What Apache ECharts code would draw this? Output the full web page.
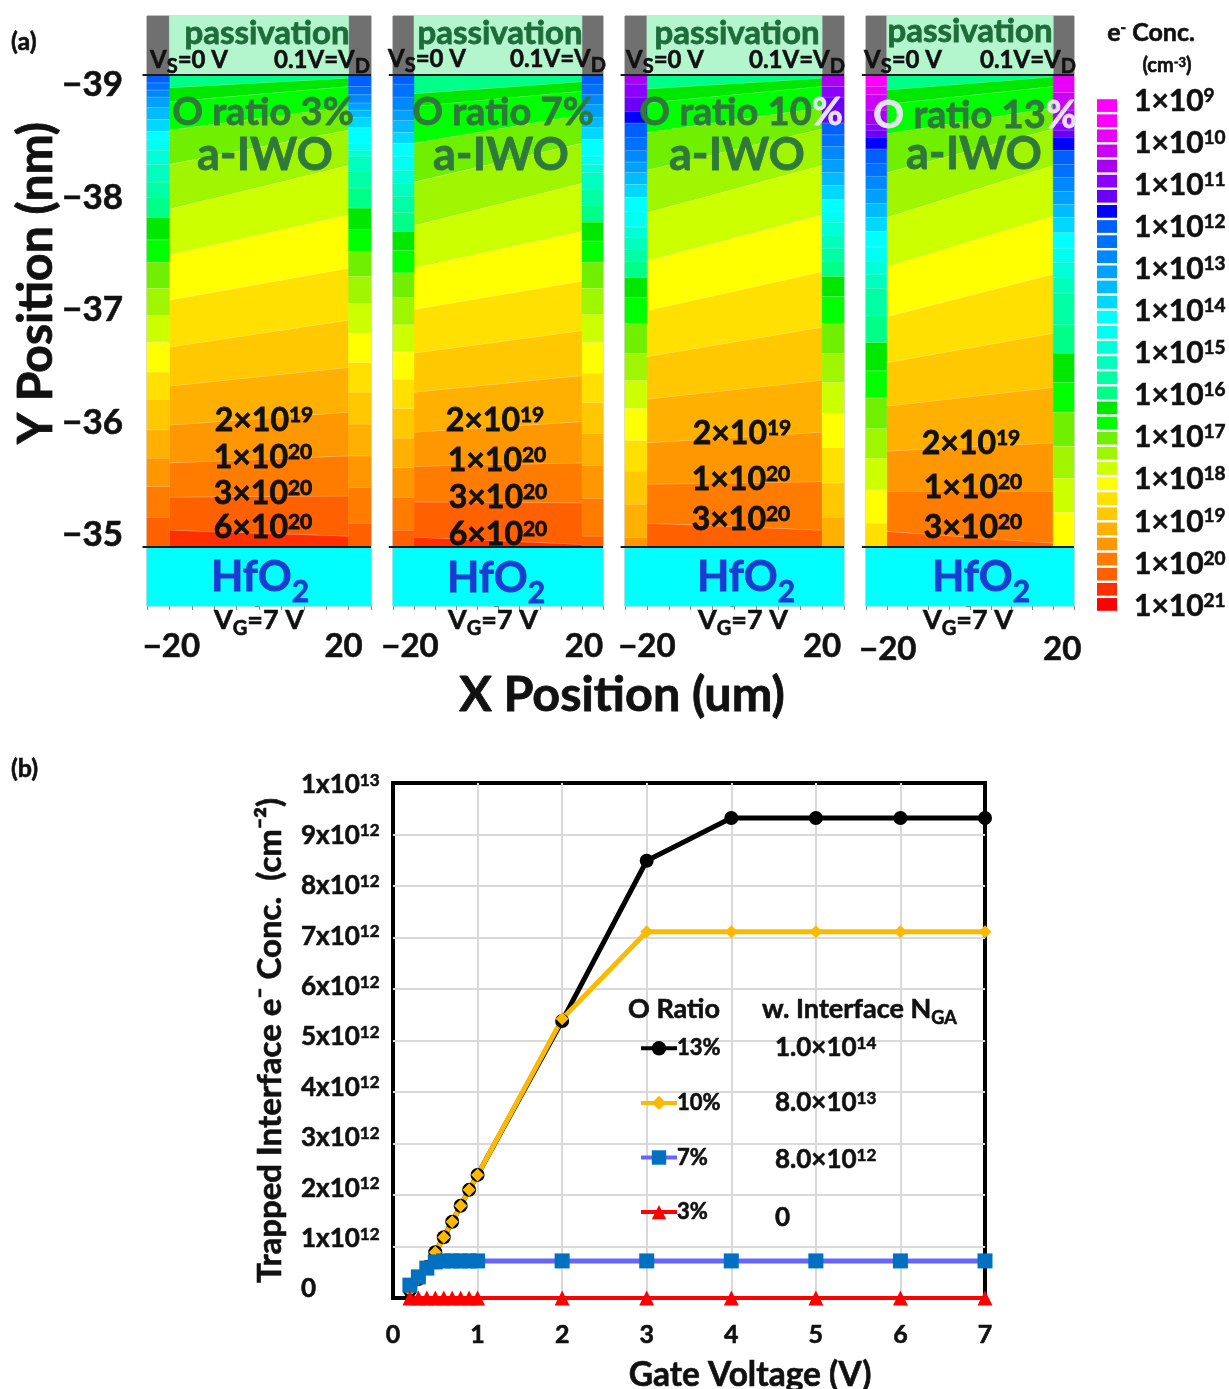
<!DOCTYPE html>
<html>
<head>
<meta charset="utf-8">
<style>html,body{margin:0;padding:0;background:#fff}#c{width:1229px;height:1389px}</style>
<script src="https://cdn.jsdelivr.net/npm/echarts@6/dist/echarts.min.js"></script>
</head>
<body>
<div id="c"></div>
<script>
// ---------- Panel (a): concentration colour levels, top (1e9) to bottom (1e21) ----------
const levelColors = ['#ff00ff','#ff00ff','#e800f8','#cc00f8','#a800f0','#8c00ff','#6a00f8','#0000ff','#0060ff','#0070ff','#0088ff','#00a0ff','#00bcff','#00d8ff','#00ffff','#00fff0','#00ffd8','#00ffbe','#00ffa4','#00ff88','#00e800','#00ff00','#70f000','#a0f500','#ccff00','#ffff00','#ffe000','#ffc800','#ffb000','#ff9800','#ff7c00','#ff6000','#ff3000','#ff0000'];
const layerColors = ['#b3f5cc','#707070','#00ffff'];
const exponents = [9,10,11,12,13,14,15,16,17,18,19,20,21];
const yTicksNm = [-39,-38,-37,-36,-35];

// contour boundaries (nm) in the channel: at x=-20 and at x=+20
const center3L  = [-38.89,-38.77,-38.53,-38.24,-37.86,-37.47,-37.09,-36.69,-36.36,-36.03,-35.71,-35.42,-35.14];
const center3R  = [-38.97,-38.90,-38.73,-38.53,-38.23,-37.81,-37.36,-36.92,-36.52,-36.14,-35.77,-35.43,-35.09];
const center7L  = [-38.84,-38.73,-38.42,-38.09,-37.72,-37.36,-37.01,-36.64,-36.31,-35.97,-35.68,-35.38,-35.08];
const center7R  = [-38.94,-38.86,-38.66,-38.42,-38.08,-37.67,-37.25,-36.83,-36.45,-36.06,-35.71,-35.37,-35.02];
const center10L = [-38.88,-38.76,-38.51,-38.19,-37.83,-37.42,-37.00,-36.61,-36.25,-35.88,-35.53,-35.20];
const center10R = [-38.97,-38.90,-38.72,-38.54,-38.23,-37.81,-37.33,-36.86,-36.41,-35.97,-35.55,-35.14];
const center13L = [-38.87,-38.75,-38.50,-38.17,-37.79,-37.37,-36.95,-36.56,-36.19,-35.81,-35.47,-35.13];
const center13R = [-38.98,-38.90,-38.72,-38.54,-38.23,-37.80,-37.31,-36.81,-36.35,-35.88,-35.47,-35.03];
// source/drain strips: lower edge (nm) of successive colour cells
const strip3L  = [-38.93,-38.87,-38.81,-38.72,-38.62,-38.52,-38.45,-38.36,-38.24,-38.09,-37.96,-37.79,-37.60,-37.41,-37.19,-36.96,-36.73,-36.48,-36.25,-35.99,-35.75,-35.51,-35.25,-35.00];
const strip3R  = [-38.90,-38.83,-38.76,-38.70,-38.64,-38.55,-38.42,-38.36,-38.31,-38.18,-38.04,-37.87,-37.69,-37.50,-37.29,-37.06,-36.81,-36.56,-36.31,-36.04,-35.77,-35.50,-35.20,-35.00];
const strip7L  = [-38.92,-38.81,-38.70,-38.61,-38.51,-38.42,-38.31,-38.19,-38.08,-37.97,-37.83,-37.67,-37.51,-37.32,-37.11,-36.88,-36.65,-36.42,-36.17,-35.92,-35.67,-35.42,-35.14,-35.00];
const strip7R  = [-38.92,-38.83,-38.75,-38.64,-38.55,-38.45,-38.31,-38.24,-38.17,-38.03,-37.89,-37.75,-37.59,-37.41,-37.19,-36.97,-36.73,-36.47,-36.22,-35.96,-35.69,-35.41,-35.09,-35.00];
const strip10L = [-38.92,-38.81,-38.69,-38.59,-38.47,-38.36,-38.26,-38.17,-38.07,-37.96,-37.84,-37.71,-37.62,-37.52,-37.42,-37.28,-37.11,-36.89,-36.64,-36.41,-36.17,-35.90,-35.64,-35.36,-35.08,-35.00];
const strip10R = [-38.90,-38.81,-38.59,-38.59,-38.49,-38.39,-38.28,-38.17,-38.06,-37.94,-37.84,-37.75,-37.64,-37.53,-37.42,-37.29,-37.12,-36.89,-36.64,-36.39,-36.13,-35.84,-35.54,-35.25,-35.00];
const strip13L = [-38.90,-38.83,-38.70,-38.58,-38.53,-38.47,-38.37,-38.25,-38.14,-38.03,-37.91,-37.79,-37.67,-37.54,-37.42,-37.31,-37.19,-36.96,-36.73,-36.49,-36.26,-36.00,-35.75,-35.48,-35.20,-35.00];
const strip13R = [-38.85,-38.70,-38.59,-38.53,-38.47,-38.36,-38.24,-38.13,-38.01,-37.90,-37.79,-37.66,-37.53,-37.41,-37.28,-37.15,-36.88,-36.64,-36.39,-36.14,-35.85,-35.58,-35.29,-35.00];

// ---------- Panel (b) ----------
const gateVoltage = [0.2,0.3,0.4,0.5,0.6,0.7,0.8,0.9,1,2,3,4,5,6,7];
const trapped13 = [0.15e12,0.37e12,0.60e12,0.89e12,1.18e12,1.48e12,1.79e12,2.10e12,2.39e12,5.38e12,8.49e12,9.32e12,9.32e12,9.32e12,9.32e12];
const trapped10 = [0.15e12,0.37e12,0.60e12,0.89e12,1.18e12,1.48e12,1.79e12,2.10e12,2.39e12,5.42e12,7.11e12,7.11e12,7.11e12,7.11e12,7.11e12];
const trapped7  = [0.25e12,0.41e12,0.58e12,0.70e12,0.72e12,0.72e12,0.72e12,0.72e12,0.72e12,0.72e12,0.72e12,0.72e12,0.72e12,0.72e12,0.72e12];
const trapped3  = [0,0,0,0,0,0,0,0,0,0,0,0,0,0,0];
const bTicks = [0,1e12,2e12,3e12,4e12,5e12,6e12,7e12,8e12,9e12,1e13];

const FF = 'Lato';
const palette = levelColors.concat(layerColors);
const PASS = levelColors.length, GRAY = PASS + 1, OXIDE = PASS + 2;
const bold = (size, color, bw) => ({fontFamily:FF,fontWeight:'bold',fontSize:size,color,textBorderColor:color,textBorderWidth:bw===undefined?0.6:bw});

function stripRows(edges, startColor, x0, x1) {
  const rows = []; let top = -39;
  edges.forEach((e, k) => { rows.push([x0, x1, top, top, e, e, startColor + k, k < edges.length - 1 ? 1 : 0]); top = e; });
  return rows;
}
function centerRows(L, R) {
  const rows = []; let tl = -39, tr = -39;
  L.concat([-35]).forEach((l, k) => {
    const r = k < L.length ? R[k] : -35;
    rows.push([-20, 20, tl, tr, l, r, 19 + k, k < L.length ? 1 : 0]); tl = l; tr = r;
  });
  return rows;
}
const layerRows = [
  [-25,-20,-39.5,-39.5,-39,-39,GRAY,0],[20,25,-39.5,-39.5,-39,-39,GRAY,0],
  [-20,20,-39.5,-39.5,-39,-39,PASS,0],[-25,25,-35,-35,-34.5,-34.5,OXIDE,0]
];
function renderBand(p, api) {
  const a = api.coord([api.value(0), api.value(2)]), b = api.coord([api.value(1), api.value(3)]);
  const c = api.coord([api.value(1), api.value(5)]), d = api.coord([api.value(0), api.value(4)]);
  const kids = [{type:'polygon', shape:{points:[a,b,c,d]}, style:{fill:palette[api.value(6)], stroke:palette[api.value(6)], lineWidth:0.5}}];
  if (api.value(7)) kids.push({type:'line', shape:{x1:d[0],y1:d[1],x2:c[0],y2:c[1]}, style:{stroke:'rgba(255,255,255,0.75)', lineWidth:1}});
  return {type:'group', children:kids};
}
function renderInterface(p, api) {
  const a = api.coord([api.value(0), api.value(1)]), b = api.coord([api.value(2), api.value(1)]);
  return {type:'line', shape:{x1:a[0],y1:a[1],x2:b[0],y2:b[1]}, style:{stroke:'#1a1a1a', lineWidth:2}};
}

const panels = [
  {left:147,w:224,sl:2,sr:-5,m:24,rows:centerRows(center3L,center3R).concat(stripRows(strip3L,8,-25,-20),stripRows(strip3R,8,20,25))},
  {left:393,w:210,sl:-4,sr:2,m:24,rows:centerRows(center7L,center7R).concat(stripRows(strip7L,8,-25,-20),stripRows(strip7R,8,20,25))},
  {left:625,w:219,sl:0,sr:0,m:24,rows:centerRows(center10L,center10R).concat(stripRows(strip10L,4,-25,-20),stripRows(strip10R,4,20,25))},
  {left:866,w:208,sl:1,sr:9,m:27,rows:centerRows(center13L,center13R).concat(stripRows(strip13L,1,-25,-20),stripRows(strip13R,2,20,25))}
];
const shiftPad = s => s >= 0 ? [0,0,0,2*s] : [0,-2*s,0,0];

const grid=[], xAxis=[], yAxis=[], series=[];
const G = o => Object.assign({outerBoundsMode:'none'}, o);
panels.forEach((p,i)=>{
  grid.push(G({left:p.left, top:16, width:p.w, height:590, show:true, borderColor:'#b5b5b5', borderWidth:1, backgroundColor:'#fff'}));
  xAxis.push({gridIndex:i, type:'value', min:-25, max:25, interval:5,
    axisLine:{show:false}, splitLine:{show:false},
    axisTick:{show:true,length:4,lineStyle:{color:'#888'}},
    axisLabel:{margin:p.m, hideOverlap:false,
      formatter:v=> v===-20?'{l|−20}': v===20?'{r|20}':'',
      rich:{l:Object.assign(bold(33,'#111'),{padding:shiftPad(p.sl)}), r:Object.assign(bold(33,'#111'),{padding:shiftPad(p.sr)})}}});
  yAxis.push({gridIndex:i, type:'value', min:-39.5, max:-34.5, interval:0.25, inverse:true,
    axisLine:{show:false}, splitLine:{show:false}, axisLabel:{show:false},
    axisTick:{show:true,length:4,lineStyle:{color:'#777'}}});
  series.push({type:'custom', name:'layers'+i, xAxisIndex:i, yAxisIndex:i, renderItem:renderBand, data:layerRows, silent:true, z:2});
  series.push({type:'custom', name:'bands'+i, xAxisIndex:i, yAxisIndex:i, renderItem:renderBand, data:p.rows, silent:true, z:3});
  series.push({type:'custom', name:'interface'+i, xAxisIndex:i, yAxisIndex:i, renderItem:renderInterface, clip:false, data:[[-26,-39,25],[-26,-35,25]], silent:true, z:4});
});

// grid 4: y labels of panel (a)
grid.push(G({left:125, top:85, width:1, height:450}));
xAxis.push({gridIndex:4, type:'value', show:false, min:0, max:1});
yAxis.push({gridIndex:4, type:'value', min:yTicksNm[0], max:yTicksNm[4], interval:1, inverse:true,
  axisLine:{show:false}, axisTick:{show:false}, splitLine:{show:false},
  axisLabel:Object.assign(bold(35,'#111'),{margin:2, formatter:v=>String(v).replace('-','−')})});

// grid 5: colour bar
grid.push(G({left:1097, top:98, width:20, height:514}));
xAxis.push({gridIndex:5, type:'value', show:false, min:0, max:1});
yAxis.push({gridIndex:5, type:'category', show:false, inverse:true, data:levelColors.map((c,i)=>i)});
series.push({type:'bar', name:'colour bar', xAxisIndex:5, yAxisIndex:5, barCategoryGap:'16%', silent:true,
  data:levelColors.map(c=>({value:1, itemStyle:{color:c}}))});

// grid 6: colour bar labels
const sup = (base, s) => `{a|${base}}{s|${s}}`;
grid.push(G({left:1122, top:101, width:1, height:505}));
xAxis.push({gridIndex:6, type:'value', show:false, min:0, max:1});
yAxis.push({gridIndex:6, type:'value', min:exponents[0], max:exponents[12], interval:1, inverse:true,
  axisLine:{show:false}, axisTick:{show:false}, splitLine:{show:false},
  axisLabel:{inside:true, margin:12, align:'left', formatter:v=>sup('1×10',v),
    rich:{a:bold(30,'#111'),s:Object.assign(bold(19,'#111'),{verticalAlign:'top'})}}});

// grid 7: panel (b)
grid.push(G({left:393, top:783, width:592, height:515, show:true, borderColor:'#000', borderWidth:4, backgroundColor:'#fff'}));
xAxis.push({gridIndex:7, type:'value', min:0, max:7, interval:1,
  axisLine:{show:false}, axisTick:{show:false},
  splitLine:{show:true,showMinLine:false,showMaxLine:false,lineStyle:{color:'#d9d9d9',width:2}},
  axisLabel:Object.assign(bold(25,'#111'),{margin:24}),
  name:'Gate Voltage (V)', nameLocation:'middle', nameGap:60,
  nameTextStyle:Object.assign(bold(33.5,'#111'),{padding:[0,0,0,122]})});
yAxis.push({gridIndex:7, type:'value', min:0, max:1e13, interval:1e12,
  axisLine:{show:false}, axisTick:{show:false}, axisLabel:{show:false},
  splitLine:{show:true,showMinLine:false,showMaxLine:false,lineStyle:{color:'#d9d9d9',width:2}},
  name:'Trapped Interface e⁻ Conc.  (cm⁻²)', nameLocation:'middle', nameGap:106,
  nameTextStyle:bold(33,'#111')});

// grid 8: y labels of panel (b)
grid.push(G({left:382, top:785, width:1, height:504}));
xAxis.push({gridIndex:8, type:'value', show:false, min:0, max:1});
yAxis.push({gridIndex:8, type:'value', min:bTicks[0], max:bTicks[10], interval:1e12,
  axisLine:{show:false}, axisTick:{show:false}, splitLine:{show:false},
  axisLabel:{margin:81, align:'left', formatter:v=> v===0?'{a|0}': v===1e13? sup('1x10',13): sup((v/1e12)+'x10',12),
    rich:{a:bold(26,'#111'),s:Object.assign(bold(17,'#111'),{verticalAlign:'top'})}}});

const lineCommon = {type:'line', xAxisIndex:7, yAxisIndex:7, clip:false, showSymbol:true, smooth:false, z:5, animation:false};
const pairs = ys => gateVoltage.map((x,i)=>[x,ys[i]]);
series.push(Object.assign({},lineCommon,{name:'13%',data:pairs(trapped13),symbol:'circle',symbolSize:14,itemStyle:{color:'#000'},lineStyle:{color:'#000',width:5}}));
series.push(Object.assign({},lineCommon,{name:'10%',data:pairs(trapped10),symbol:'diamond',symbolSize:13,itemStyle:{color:'#fdb900'},lineStyle:{color:'#fdb900',width:5}}));
series.push(Object.assign({},lineCommon,{name:'7%',data:pairs(trapped7),symbol:'rect',symbolSize:15,itemStyle:{color:'#0070c0'},lineStyle:{color:'#6666ff',width:5}}));
series.push(Object.assign({},lineCommon,{name:'3%',data:pairs(trapped3),symbol:'triangle',symbolSize:15,itemStyle:{color:'#ff0000'},lineStyle:{color:'#ff0000',width:4}}));

// ---------- Text annotations ----------
const tok = (size, color, bw) => ({fontFamily:FF,fontWeight:'bold',fontSize:size,fill:color,stroke:color,lineWidth:bw});
const rich = (size, color, supSize, subSize, drop) => {
  const ss = supSize || size*0.66, us = subSize || size*0.66, d = drop || 0, bw = size > 30 ? 0.8 : 0.6;
  return {
    a:Object.assign(tok(size,color,bw),{verticalAlign:'top'}),
    w:Object.assign(tok(size,'#e4e4ee',bw),{verticalAlign:'top'}),
    s:Object.assign(tok(ss,color,bw),{verticalAlign:'top'}),
    u:Object.assign(tok(us,color,bw),{verticalAlign:'top',padding:[size-us+d,0,0,0]})
  };
};
const T = (x,y,text,size,color,align,extra) => {
  const e = extra || {}, d = e.drop || 0;
  return {type:'text', silent:true, z:20, x, y:y+d/2, rotation:e.rotation||0,
    style:{text, align:align||'center', verticalAlign:'middle', rich:rich(size,color||'#111',e.sup,e.sub,d),
      fontFamily:FF,fontWeight:'bold',fontSize:size,fill:color||'#111'}};
};
const GREEN='#2f7a3a', PG='#1f6b3a', BLUE='#1a3cd0', K='#111';
const conc = (b,s)=>`{a|${b}×10}{s|${s}}`;
const VS = {sub:20,drop:5}, VG = {sub:20,drop:5}, OX = {sub:30,drop:9}, CS = {sup:21};
const graphic = [
  T(11,42,'{a|(a)}',25,K,'left'), T(11,769,'{a|(b)}',25,K,'left'),
  T(37,283,'{a|Y Position (nm)}',48,K,'center',{rotation:Math.PI/2}),
  T(622,695,'{a|X Position (um)}',48.5,K),
  T(1151,33,'{a|e}{s|-}{a| Conc.}',25,K,'center',{sup:15}),
  T(1167,66,'{a|(cm}{s|-3}{a|)}',20,K,'center',{sup:13}),
  // panel 3 %
  T(267,33,'{a|passivation}',33,PG), T(150,60,'{a|V}{u|S}{a|=0 V}',24,K,'left',VS), T(370,60,'{a|0.1V=V}{u|D}',24,K,'right',VS),
  T(263,113,'{a|O ratio 3%}',38,GREEN), T(265,155,'{a|a-IWO}',45,GREEN), T(260,577,'{a|HfO}{u|2}',42,BLUE,'center',OX), T(259,620,'{a|V}{u|G}{a|=7 V}',27,K,'center',VG),
  T(264,421,conc(2,19),32,K,'center',CS),T(263,458,conc(1,20),32,K,'center',CS),T(263,494,conc(3,20),32,K,'center',CS),T(263,528,conc(6,20),32,K,'center',CS),
  // panel 7 %
  T(500,33,'{a|passivation}',33,PG), T(388,59,'{a|V}{u|S}{a|=0 V}',24,K,'left',VS), T(606,59,'{a|0.1V=V}{u|D}',24,K,'right',VS),
  T(503,113,'{a|O ratio 7%}',38,GREEN), T(501,155,'{a|a-IWO}',45,GREEN), T(496,578,'{a|HfO}{u|2}',42,BLUE,'center',OX), T(493,620,'{a|V}{u|G}{a|=7 V}',27,K,'center',VG),
  T(495,421,conc(2,19),32,K,'center',CS),T(497,461,conc(1,20),32,K,'center',CS),T(498,498,conc(3,20),32,K,'center',CS),T(498,535,conc(6,20),32,K,'center',CS),
  // panel 10 %
  T(737,33,'{a|passivation}',33,PG), T(626,60,'{a|V}{u|S}{a|=0 V}',24,K,'left',VS), T(845,60,'{a|0.1V=V}{u|D}',24,K,'right',VS),
  T(741,113,'{a|O ratio 10}{w|%}',38,GREEN), T(737,155,'{a|a-IWO}',45,GREEN), T(746,577,'{a|HfO}{u|2}',42,BLUE,'center',OX), T(743,620,'{a|V}{u|G}{a|=7 V}',27,K,'center',VG),
  T(742,434,conc(2,19),32,K,'center',CS),T(741,480,conc(1,20),32,K,'center',CS),T(741,520,conc(3,20),32,K,'center',CS),
  // panel 13 %
  T(970,31,'{a|passivation}',33,PG), T(864,60,'{a|V}{u|S}{a|=0 V}',24,K,'left',VS), T(1076,60,'{a|0.1V=V}{u|D}',24,K,'right',VS),
  T(975,116,'{w|O}{a| ratio 13}{w|%}',38,GREEN), T(974,154,'{a|a-IWO}',45,GREEN), T(981,577,'{a|HfO}{u|2}',42,BLUE,'center',OX), T(968,620,'{a|V}{u|G}{a|=7 V}',27,K,'center',VG),
  T(971,444,conc(2,19),32,K,'center',CS),T(973,488,conc(1,20),32,K,'center',CS),T(973,528,conc(3,20),32,K,'center',CS),
  // panel (b) table
  T(674,1009,'{a|O Ratio}',27,K), T(762,1009,'{a|w. Interface N}{u|GA}',27,K,'left',{sub:18,drop:5}),
  T(775,1048,'{a|1.0×10}{s|14}',26,K,'left',{sup:17}), T(775,1103,'{a|8.0×10}{s|13}',26,K,'left',{sup:17}),
  T(775,1160,'{a|8.0×10}{s|12}',26,K,'left',{sup:17}), T(775,1218,'{a|0}',26,K,'left')
];

const chart = echarts.init(document.getElementById('c'), null, {renderer:'canvas'});
chart.setOption({
  animation:false, backgroundColor:'#fff', tooltip:{show:false},
  grid, xAxis, yAxis, series, graphic,
  legend:{data:['13%','10%','7%','3%'], orient:'vertical', left:634, top:1032, itemWidth:36, itemHeight:18, itemGap:32,
    selectedMode:false, lineStyle:{width:4}, textStyle:Object.assign(bold(22,'#111'),{padding:[0,0,0,-5]})}
});
</script>
</body>
</html>
